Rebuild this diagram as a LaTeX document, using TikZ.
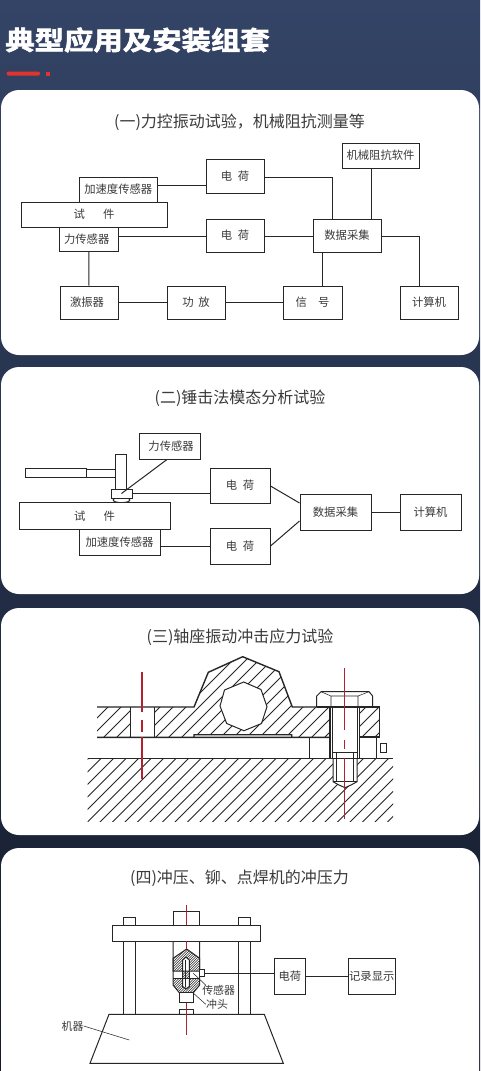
\documentclass[tikz,border=0pt]{standalone}
\usepackage{fontspec}
\usetikzlibrary{shapes.geometric}
\setmainfont{Noto Sans CJK SC}
\newfontfamily\titlefont[FakeBold=2.2]{Noto Sans CJK SC Bold}
\definecolor{ink}{HTML}{262626}
\definecolor{txt}{HTML}{3A3A3A}
\definecolor{redl}{HTML}{B3212F}
\definecolor{accent}{HTML}{E0352F}
\definecolor{bgtop}{HTML}{344466}
\definecolor{bgbot}{HTML}{141A2A}
\tikzset{
 card/.style={fill=white,rounded corners=13.5pt,draw=none},
 bx/.style={draw=ink,line width=0.75pt,fill=white,inner sep=0pt,text=txt,font=\fontsize{8.5pt}{10pt}\selectfont},
 conn/.style={draw=ink,line width=0.75pt},
 thinl/.style={draw=ink,line width=0.4pt},
 part/.style={draw=ink,line width=0.75pt},
 heavy/.style={draw=ink,line width=1.05pt},
 hatch/.style={draw=ink,line width=0.6pt},
 cl/.style={draw=redl,line width=0.85pt},
 sect/.style={text=txt,inner sep=0pt,font=\fontsize{12pt}{14pt}\selectfont},
 lab/.style={text=txt,inner sep=0pt,font=\fontsize{8.2pt}{10pt}\selectfont},
}
\newcommand\bxn[6]{%
 \pgfmathsetmacro\bw{(#4-#2)*0.75}\pgfmathsetmacro\bh{(#5-#3)*0.75}%
 \node[bx,minimum width=\bw pt,minimum height=\bh pt] (#1) at ({(#2+#4)/2},{(#3+#5)/2}) {#6};}
\begin{document}
\begin{tikzpicture}[x=0.75pt,y=-0.75pt]
\useasboundingbox (0,0) rectangle (480,1071);
\fill[top color=bgtop,bottom color=bgbot] (0,0) rectangle (480,1071);
% header
\node[inner sep=0pt,anchor=west,text=white,font=\titlefont\fontsize{19.5pt}{22pt}\selectfont,xscale=1.13] (head) at (5,40) {典型应用及安装组套};
\fill[accent,rounded corners=1pt] (6.5,71.5) rectangle (40,75.5);
\fill[accent] (46,72) rectangle (50,75.5);
% cards
\fill[card] (1,90) rectangle (479,355);
\fill[card] (1,367) rectangle (479,594);
\fill[card] (1,608) rectangle (479,835);
\fill[card] (1,848) rectangle (479,1095);
\node[sect] (t1) at (239.5,122) {(一)力控振动试验，机械阻抗测量等};
\node[sect] (t2) at (240,398) {(二)锤击法模态分析试验};
\node[sect] (t3) at (240,637) {(三)轴座振动冲击应力试验};
\node[sect] (t4) at (239.5,878) {(四)冲压、铆、点焊机的冲压力};
% ---------- section 1
\bxn{soft}{342}{143}{419}{168}{机械阻抗软件}
\bxn{ea}{206}{159}{264}{193}{电\hspace{0.5em}荷}
\bxn{acc}{79.5}{177}{157}{202}{加速度传感器}
\bxn{spec}{21}{202}{167}{227}{试\hspace{1.6em}件}
\bxn{force}{59.5}{227}{118}{251}{\hspace*{-3pt}力传感器}
\bxn{eb}{206}{219}{264}{252}{电\hspace{0.5em}荷}
\bxn{daq}{313}{219}{381}{252}{数据采集}
\bxn{shk}{60}{286}{118}{319}{\hspace*{-3pt}激振器}
\bxn{amp}{167}{286}{225}{319}{功\hspace{0.4em}放}
\bxn{sig}{283}{286}{342}{319}{信\hspace{1em}号}
\bxn{pc}{400}{286}{458}{319}{计算机}
\draw[conn] (acc.east |- 0,185) -- (ea.west |- 0,185);
\draw[conn] (ea.east |- 0,177) -| (332,0 |- daq.north);
\draw[conn] (371,0 |- soft.south) -- (371,0 |- daq.north);
\draw[conn] (force.east |- 0,236) -- (eb.west |- 0,236);
\draw[conn] (eb.east |- 0,236) -- (daq.west |- 0,236);
\draw[conn] (daq.east |- 0,236) -| (419.5,0 |- pc.north);
\draw[conn] (322,0 |- daq.south) -- (322,0 |- sig.north);
\draw[conn] (force.south) -- (shk.north);
\draw[conn] (shk.east) -- (amp.west);
\draw[conn] (amp.east) -- (sig.west);
% ---------- section 2
\bxn{f2}{139}{433}{200.5}{459}{\hspace*{2pt}力传感器}
\bxn{handle}{25}{468}{86.5}{477.5}{}
\bxn{shaft}{86.5}{469}{116}{477}{}
\bxn{hhead}{115}{454}{126.5}{489}{}
\node[draw=ink,line width=0.75pt,fill=white,ellipse,inner sep=0pt,minimum width=12.5pt,minimum height=4pt] (tip) at (121.5,500) {};
\bxn{s2}{111}{489}{132}{498}{}
\bxn{spec2}{19}{502}{170}{529.5}{试\hspace{1.6em}件}
\bxn{acc2}{79}{529.5}{160}{555.5}{加速度传感器}
\bxn{e2a}{210}{468}{270}{503}{电\hspace{0.5em}荷}
\bxn{e2b}{210}{528.5}{270}{564}{电\hspace{0.5em}荷}
\bxn{daq2}{300}{494}{371}{530}{数据采集}
\bxn{pc2}{400}{494}{461}{530}{计算机}
\draw[conn] (167,0 |- f2.south) -- (s2.center);
\draw[conn] (s2.east) -- (e2a.west |- s2.east);
\draw[conn] (e2a.east |- 0,486) -- (daq2.west |- 0,503);
\draw[conn] (e2b.east |- 0,546) -- (daq2.west |- 0,521);
\draw[conn] (acc2.east |- 0,546) -- (e2b.west |- 0,546);
\draw[conn] (daq2.east) -- (pc2.west);
% ---------- section 3
\begin{scope}
 \clip (87.7,758.3) rectangle (393,821);
 \foreach \i in {90,102.5,...,480} \draw[hatch] (\i,757) -- ({\i-66},823);
\end{scope}
% bracket hatch
\begin{scope}[even odd rule]
 \clip (97,707) -- (194,707) -- (208.3,672.3) -- (242.7,656.7) -- (279,671.7) -- (292.3,707) -- (330,707) -- (330,737.3) -- (291.7,737.3) -- (291.7,734.7) -- (194,734.7) -- (194,737.3) -- (97,737.3) -- cycle
 (130,707) rectangle (154,737.3)
 (243.7,682) -- (261,689.5) -- (267,706.7) -- (261.5,723.5) -- (244,730.7) -- (226.7,723.5) -- (220,706) -- (224.5,690) -- cycle;
 \foreach \i in {100,113,...,460} \draw[hatch] (\i,650) -- ({\i-95},745);
\end{scope}
\begin{scope}
 \clip (359.3,707) rectangle (379.5,737);
 \foreach \i in {360,373,...,440} \draw[hatch] (\i,700) -- ({\i-50},750);
\end{scope}
\fill[white] (333,758.5) -- (333,781.7) -- (345,787.7) -- (357,781.7) -- (357,758.5) -- cycle;
\draw[heavy] (97,707) -- (194,707) -- (208.3,672.3) -- (242.7,656.7) -- (279,671.7) -- (292.3,707) -- (330,707) (330,737.3) -- (291.7,737.3) -- (291.7,734.7) -- (194,734.7) -- (194,737.3) -- (97,737.3) -- cycle;
\draw[part] (243.7,682) -- (261,689.5) -- (267,706.7) -- (261.5,723.5) -- (244,730.7) -- (226.7,723.5) -- (220,706) -- (224.5,690) -- cycle;
\draw[part] (130,707) -- (130,737.3) (154,707) -- (154,737.3);
\draw[heavy] (359.3,707) -- (379.5,707) -- (379.5,737) -- (359.3,737);
\draw[heavy] (87.7,758.3) -- (393,758.3);
\draw[heavy] (330,707) -- (330,758.3);
\draw[thinl] (309.3,737.3) -- (309.3,758.3);
\draw[thinl] (376.7,737) -- (376.7,758.3);
\draw[part] (359.3,707) -- (359.3,758.3);
\draw[thinl] (357,707) -- (357,758.3);
\draw[thinl] (332.5,707) -- (332.5,758.3);
\draw[part] (316.7,707) -- (316.7,696) -- (321,691.7) -- (369,691.7) -- (372.7,696) -- (372.7,707);
\draw[thinl] (321,691.7) -- (331,696) -- (358,696) -- (369,691.7) (331,696) -- (331,707) (358,696) -- (358,707);
\draw[heavy] (316.7,707) -- (379.5,707);
\draw[thinl] (333,752.3) -- (357,752.3) (336.7,752.3) -- (336.7,781) (353.3,752.3) -- (353.3,781);
\draw[part] (333,758.3) -- (333,781.7) -- (339,785) -- (345,787.7) -- (351,785) -- (357,781.7) -- (357,758.3);
\draw[thinl] (333,781.7) -- (357,781.7);
\node[draw=ink,line width=0.85pt,inner sep=0pt,minimum width=4.6pt,minimum height=6.4pt] (sq) at (383.5,747.8) {};
\draw[cl] (142,672.3) -- (142,711.7) (142,720) -- (142,731.7) (142,737) -- (142,779);
\draw[cl] (344.3,668) -- (344.3,730) (344.3,740) -- (344.3,749) (344.3,758.3) -- (344.3,819);
% ---------- section 4
\bxn{capm}{173}{911}{199.7}{925}{}
\bxn{capl}{123.7}{917.3}{135.3}{925}{}
\bxn{capr}{238.3}{917.3}{250.3}{925}{}
\bxn{coll}{123.7}{941}{135.3}{1014.3}{}
\bxn{colr}{238.3}{941}{250.3}{1014.3}{}
\bxn{bar}{112}{925}{260.3}{941.3}{}
\draw[part] (173,941.3) -- (173,985) -- (179.3,992.7) -- (193.3,992.7) -- (199.7,985) -- (199.7,941.3);
\begin{scope}[even odd rule]
 \clip (173,971) -- (173,958.3) -- (186.7,949) -- (199.7,958.3) -- (199.7,971) -- cycle
 (182.7,986.7) -- (182.7,960) -- (186,957) -- (189.3,960) -- (189.3,986.7) -- cycle;
 \foreach \i in {170,172.5,...,240} \draw[draw=ink,line width=0.4pt] (\i,945) -- ({\i-30},975);
\end{scope}
\begin{scope}[even odd rule]
 \clip (173,978.3) -- (173,985) -- (179.3,992.7) -- (193.3,992.7) -- (199.7,985) -- (199.7,978.3) -- cycle
 (182.7,986.7) rectangle (189.3,960);
 \foreach \i in {170,172.5,...,240} \draw[draw=ink,line width=0.4pt] (\i,975) -- ({\i-20},995);
\end{scope}
\draw[part] (173,971) -- (173,958.3) -- (186.7,949) -- (199.7,958.3) -- (199.7,971) -- cycle;
\draw[part] (173,978.3) -- (199.7,978.3);
\draw[part] (182.7,986.7) -- (182.7,960) -- (186,957) -- (189.3,960) -- (189.3,986.7) -- (186,989) -- cycle;
\draw[thinl] (185,960) -- (185,986.7);
\bxn{punch}{179.3}{992.7}{193.3}{1002.7}{}
\bxn{stud}{179.3}{1009.3}{193.7}{1014.3}{}
\node[draw=ink,line width=0.75pt,fill=white,inner sep=0pt,minimum width=3.5pt,minimum height=5pt] (sens) at (202,973.3) {};
\draw[part] (109,1014.3) -- (264.3,1014.3) -- (283.3,1063.3) -- (90,1063.3) -- cycle;
\draw[draw=redl,line width=0.4pt] (186,905) -- (186,925) (186,941.3) -- (186,949) (186,1003) -- (186,1035);
\bxn{e4}{274}{958}{305.7}{994.3}{电荷}
\bxn{rec}{348.3}{958}{395.3}{994.3}{记录显示}
\draw[conn] (sens.east) -- (e4.west |- sens.east);
\draw[conn] (e4.east) -- (rec.west);
\node[lab] (ls) at (218.7,990.7) {传感器};
\node[lab] (lp) at (217,1004.3) {冲头};
\node[lab] (lm) at (72.5,1026) {机器};
\coordinate (ps) at (193.3,973.3);
\coordinate (pp) at (191.7,991.7);
\coordinate (pm) at (129.3,1040);
\draw[thinl] (ps) -- ([xshift=3pt]ls.north west);
\draw[thinl] (pp) -- (lp.west);
\draw[thinl] (lm.east) -- (pm);
\end{tikzpicture}
\end{document}
